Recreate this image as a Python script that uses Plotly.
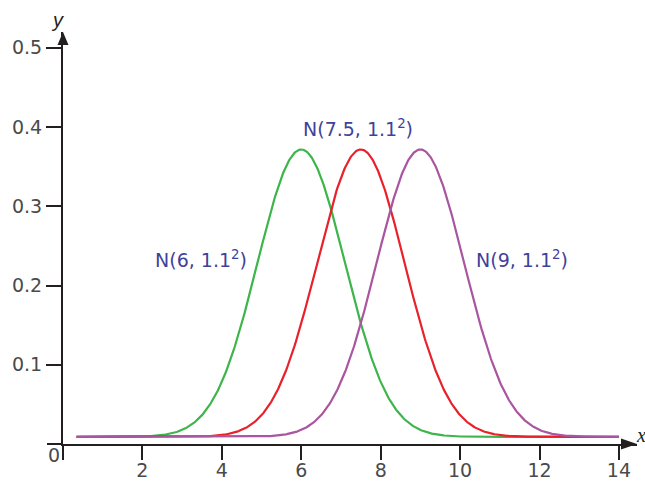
import numpy as np
import plotly.graph_objects as go

# ---- data ----
means = [6.0, 7.5, 9.0]
sd = 1.1
baseline = 0.009
x_start, x_end = 0.34, 14.0
curve_colors = ["#3db54a", "#e8212b", "#a9559f"]
labels = ["N(6, 1.1<sup>2</sup>)", "N(7.5, 1.1<sup>2</sup>)", "N(9, 1.1<sup>2</sup>)"]
label_x = [3.47, 7.42, 11.55]
label_y = [0.234, 0.399, 0.234]
x_ticks = [2, 4, 6, 8, 10, 12, 14]
y_ticks = [0.1, 0.2, 0.3, 0.4, 0.5]

# ---- layout geometry ----
W_PX, H_PX = 645, 481
ML, MR, MT, MB = 63, 8, 32, 37
PW = W_PX - ML - MR
PH = H_PX - MT - MB
X_PER = 39.71
Y_PER = 792.4
x_range = [0, PW / X_PER]
y_range = [0, PH / Y_PER]

def px(xp):
    return (xp - ML) / PW

def py(yp):
    return (H_PX - MB - yp) / PH

axis_col = "#231f20"
FAM = "DejaVu Sans, sans-serif"
tick_font = dict(family=FAM, size=19, color="#4a4a4a")

fig = go.Figure()
xs = np.linspace(x_start, x_end, 700)
for m, c in zip(means, curve_colors):
    ys = np.exp(-0.5 * ((xs - m) / sd) ** 2) / (sd * np.sqrt(2 * np.pi)) + baseline
    fig.add_trace(go.Scatter(x=xs, y=ys, mode="lines",
                             line=dict(color=c, width=2.2), showlegend=False,
                             hoverinfo="skip"))

annotations = []
for t, lx, ly in zip(labels, label_x, label_y):
    annotations.append(dict(x=lx, y=ly, xref="x", yref="y", text=t, showarrow=False,
                            xanchor="center", yanchor="middle",
                            font=dict(family=FAM, size=19, color="#40429a")))
annotations.append(dict(x=px(54), y=py(455), xref="paper", yref="paper", text="0",
                        xanchor="center", yanchor="middle",
                        showarrow=False, font=tick_font))
annotations.append(dict(x=px(641), y=py(435), xref="paper", yref="paper", text="<i>x</i>",
                        xanchor="center", yanchor="middle",
                        showarrow=False, font=dict(family="Liberation Serif, serif", size=20, color="#231f20")))
annotations.append(dict(x=px(57), y=py(20), xref="paper", yref="paper", text="<i>y</i>",
                        xanchor="center", yanchor="middle",
                        showarrow=False, font=dict(family="Liberation Sans, sans-serif", size=20, color="#231f20")))

shapes = [
    # axis extensions beyond origin
    dict(type="line", xref="paper", yref="paper", x0=px(47), x1=px(63), y0=py(444), y1=py(444),
         line=dict(color=axis_col, width=2)),
    dict(type="line", xref="paper", yref="paper", x0=px(63), x1=px(63), y0=py(444), y1=py(460),
         line=dict(color=axis_col, width=2)),
    # arrowheads
    dict(type="path", xref="paper", yref="paper",
         path=f"M {px(637)},{py(444)} L {px(621)},{py(438.5)} L {px(621)},{py(449.5)} Z",
         fillcolor=axis_col, line=dict(width=0)),
    dict(type="path", xref="paper", yref="paper",
         path=f"M {px(63)},{py(32)} L {px(57.5)},{py(45)} L {px(68.5)},{py(45)} Z",
         fillcolor=axis_col, line=dict(width=0)),
]

fig.update_layout(
    width=W_PX, height=H_PX,
    margin=dict(l=ML, r=MR, t=MT, b=MB, pad=0, autoexpand=False),
    paper_bgcolor="white", plot_bgcolor="white",
    annotations=annotations, shapes=shapes,
    xaxis=dict(range=x_range, tickvals=x_ticks, ticktext=[str(v) for v in x_ticks],
               showgrid=False, zeroline=False, showline=True, linecolor=axis_col, linewidth=2,
               ticks="outside", ticklen=14, tickwidth=2, tickcolor=axis_col,
               ticklabelstandoff=-6,
               tickfont=tick_font, fixedrange=True, automargin=False),
    yaxis=dict(range=y_range, tickvals=y_ticks, ticktext=[f"{v:.1f}" for v in y_ticks],
               showgrid=False, zeroline=False, showline=True, linecolor=axis_col, linewidth=2,
               ticks="outside", ticklen=15, tickwidth=2, tickcolor=axis_col,
               tickfont=tick_font, fixedrange=True, automargin=False),
)

fig.write_html("out.html")
